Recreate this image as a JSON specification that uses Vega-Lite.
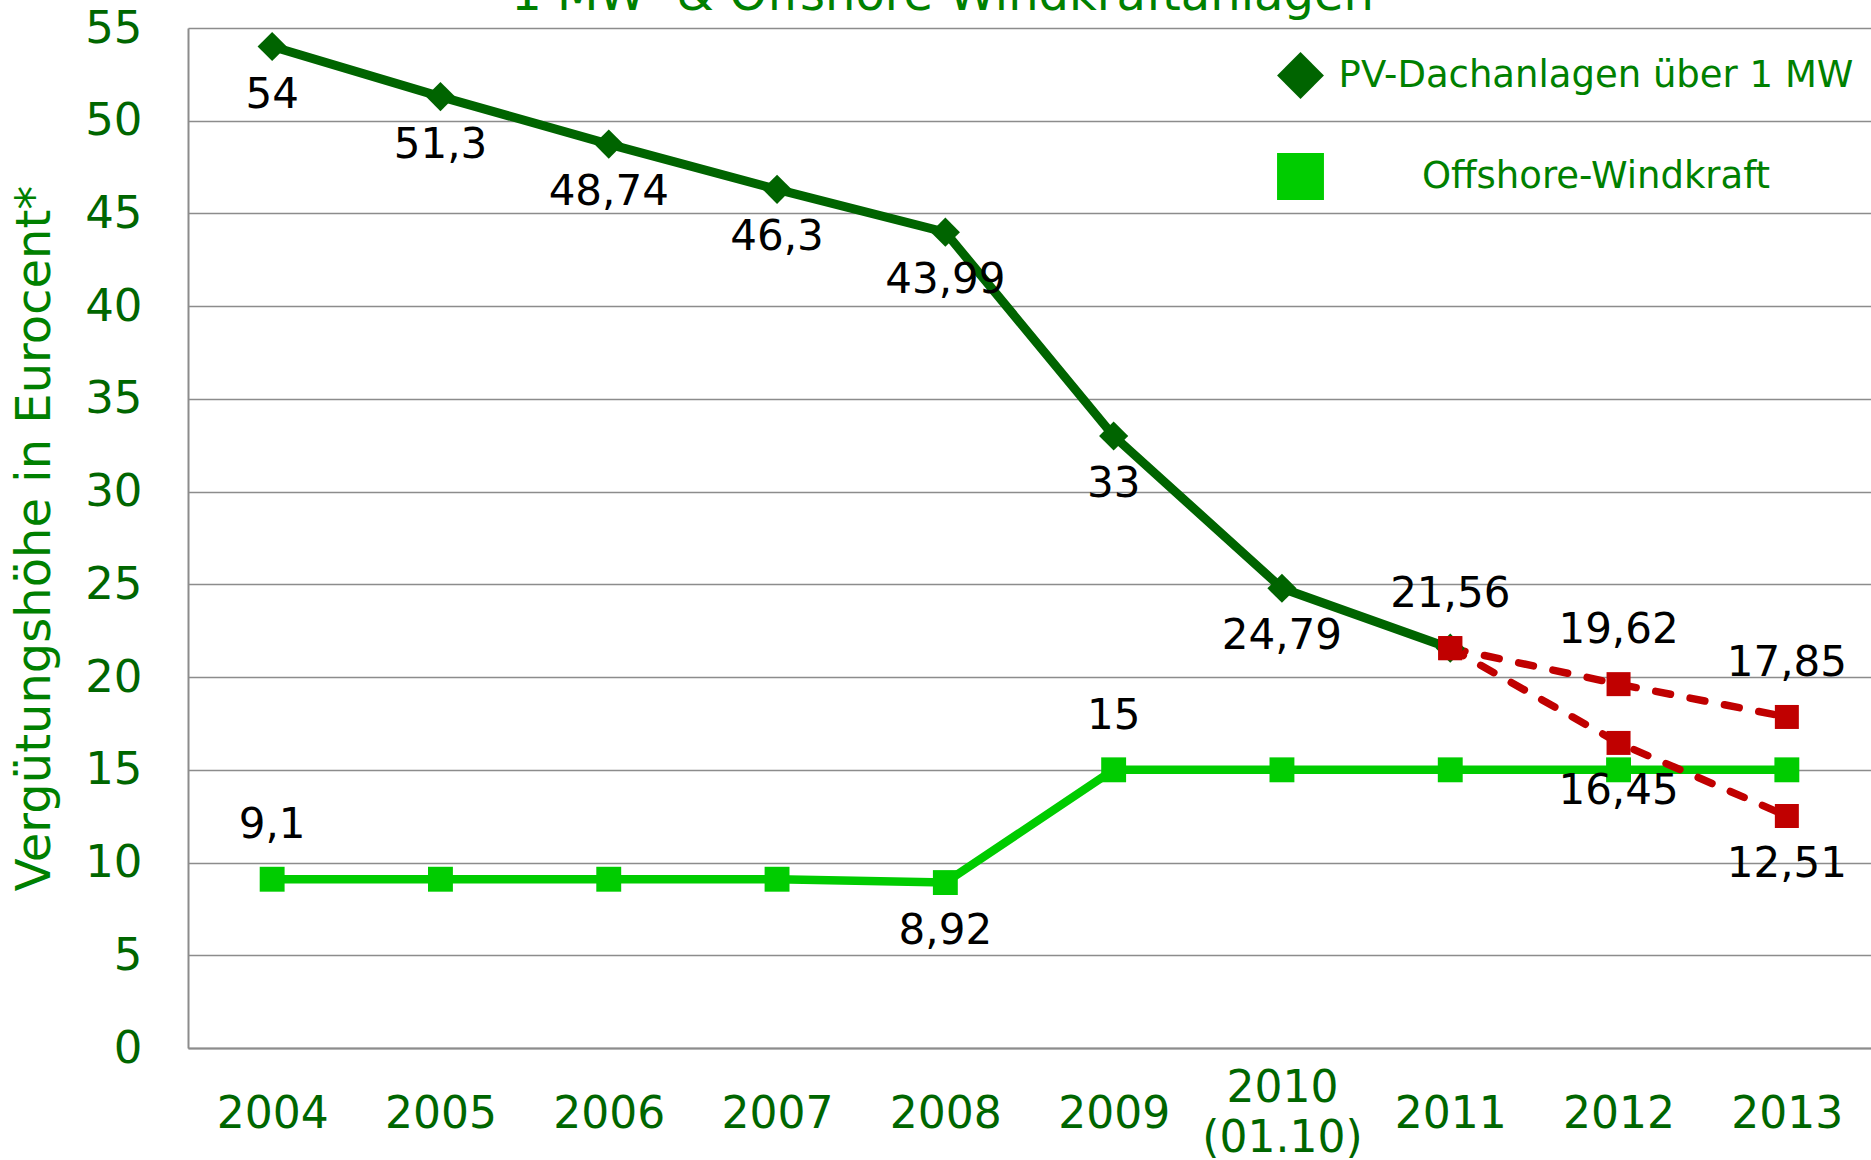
{
  "$schema": "https://vega.github.io/schema/vega-lite/v6.json",
  "autosize": "none",
  "width": 1683,
  "height": 1020,
  "padding": {"left": 188, "top": 28, "right": 0, "bottom": 112},
  "background": "white",
  "title": {
    "text": "1 MW- & Offshore-Windkraftanlagen",
    "fontSize": 48,
    "fontWeight": "normal",
    "color": "#008000",
    "anchor": "middle",
    "frame": "group",
    "offset": -14,
    "dx": -87
  },
  "config": {
    "font": "DejaVu Sans",
    "view": {"stroke": null},
    "axis": {"labelFont": "DejaVu Sans", "titleFont": "DejaVu Sans"},
    "legend": {"labelFont": "DejaVu Sans"}
  },
  "datasets": {
    "series": [
      {"year": "2004", "series": "PV-Dachanlagen über 1 MW", "value": 54},
      {"year": "2005", "series": "PV-Dachanlagen über 1 MW", "value": 51.3},
      {"year": "2006", "series": "PV-Dachanlagen über 1 MW", "value": 48.74},
      {"year": "2007", "series": "PV-Dachanlagen über 1 MW", "value": 46.3},
      {"year": "2008", "series": "PV-Dachanlagen über 1 MW", "value": 43.99},
      {"year": "2009", "series": "PV-Dachanlagen über 1 MW", "value": 33},
      {"year": "2010 (01.10)", "series": "PV-Dachanlagen über 1 MW", "value": 24.79},
      {"year": "2011", "series": "PV-Dachanlagen über 1 MW", "value": 21.56},
      {"year": "2004", "series": "Offshore-Windkraft", "value": 9.1},
      {"year": "2005", "series": "Offshore-Windkraft", "value": 9.1},
      {"year": "2006", "series": "Offshore-Windkraft", "value": 9.1},
      {"year": "2007", "series": "Offshore-Windkraft", "value": 9.1},
      {"year": "2008", "series": "Offshore-Windkraft", "value": 8.92},
      {"year": "2009", "series": "Offshore-Windkraft", "value": 15},
      {"year": "2010 (01.10)", "series": "Offshore-Windkraft", "value": 15},
      {"year": "2011", "series": "Offshore-Windkraft", "value": 15},
      {"year": "2012", "series": "Offshore-Windkraft", "value": 15},
      {"year": "2013", "series": "Offshore-Windkraft", "value": 15},
      {"year": "2011", "series": "Prognose A", "value": 21.56},
      {"year": "2012", "series": "Prognose A", "value": 19.62},
      {"year": "2013", "series": "Prognose A", "value": 17.85},
      {"year": "2011", "series": "Prognose B", "value": 21.56},
      {"year": "2012", "series": "Prognose B", "value": 16.45},
      {"year": "2013", "series": "Prognose B", "value": 12.51}
    ],
    "labels": [
      {"year": "2004", "value": 54, "label": "54", "placement": "below"},
      {"year": "2005", "value": 51.3, "label": "51,3", "placement": "below"},
      {"year": "2006", "value": 48.74, "label": "48,74", "placement": "below"},
      {"year": "2007", "value": 46.3, "label": "46,3", "placement": "below"},
      {"year": "2008", "value": 43.99, "label": "43,99", "placement": "below"},
      {"year": "2009", "value": 33, "label": "33", "placement": "below"},
      {"year": "2010 (01.10)", "value": 24.79, "label": "24,79", "placement": "below"},
      {"year": "2011", "value": 21.56, "label": "21,56", "placement": "above"},
      {"year": "2004", "value": 9.1, "label": "9,1", "placement": "above"},
      {"year": "2008", "value": 8.92, "label": "8,92", "placement": "below"},
      {"year": "2009", "value": 15, "label": "15", "placement": "above"},
      {"year": "2012", "value": 19.62, "label": "19,62", "placement": "above"},
      {"year": "2013", "value": 17.85, "label": "17,85", "placement": "above"},
      {"year": "2012", "value": 16.45, "label": "16,45", "placement": "below"},
      {"year": "2013", "value": 12.51, "label": "12,51", "placement": "below"}
    ]
  },
  "encoding": {
    "x": {
      "field": "year",
      "type": "nominal",
      "scale": {"type": "point", "padding": 0.5},
      "axis": {
        "title": null,
        "labelAngle": 0,
        "labelFontSize": 44,
        "labelColor": "#006600",
        "labelBaseline": "middle",
        "labelPadding": {"condition": {"test": "datum.value == '2010 (01.10)'", "value": 40}, "value": 66},
        "labelExpr": "datum.value == '2010 (01.10)' ? ['2010', '(01.10)'] : datum.value",
        "labelLineHeight": 50,
        "ticks": false,
        "grid": false,
        "domainColor": "#8c8c8c",
        "domainWidth": 2
      }
    },
    "y": {
      "field": "value",
      "type": "quantitative",
      "scale": {"domain": [0, 55], "nice": false},
      "axis": {
        "title": "Vergütungshöhe in Eurocent*",
        "titleFontSize": 48,
        "titleFontWeight": "normal",
        "titleColor": "#008000",
        "titlePadding": 25,
        "values": [0, 5, 10, 15, 20, 25, 30, 35, 40, 45, 50, 55],
        "labelFontSize": 45,
        "labelColor": "#006600",
        "labelPadding": 46,
        "ticks": false,
        "grid": true,
        "gridColor": "#8c8c8c",
        "gridWidth": 1.5,
        "domainColor": "#8c8c8c",
        "domainWidth": 2
      }
    }
  },
  "layer": [
    {
      "data": {"name": "series"},
      "transform": [{"filter": "datum.series == 'PV-Dachanlagen über 1 MW'"}],
      "mark": {"type": "line", "color": "#006400", "strokeWidth": 9}
    },
    {
      "data": {"name": "series"},
      "transform": [{"filter": "datum.series == 'Offshore-Windkraft'"}],
      "mark": {"type": "line", "color": "#00cc00", "strokeWidth": 8.5}
    },
    {
      "data": {"name": "series"},
      "transform": [{"filter": "datum.series == 'Prognose A' || datum.series == 'Prognose B'"}],
      "mark": {"type": "line", "color": "#c00000", "strokeWidth": 7.5, "strokeDash": [15, 20], "strokeCap": "round"},
      "encoding": {"detail": {"field": "series"}}
    },
    {
      "data": {"name": "series"},
      "transform": [{"filter": "datum.series == 'PV-Dachanlagen über 1 MW'"}],
      "mark": {"type": "point", "filled": true, "opacity": 1, "size": 850, "shape": "diamond", "color": "#006400"}
    },
    {
      "data": {"name": "series"},
      "transform": [{"filter": "datum.series == 'PV-Dachanlagen über 1 MW' || datum.series == 'Offshore-Windkraft'"}],
      "mark": {"type": "point", "filled": true, "opacity": 1, "size": 620},
      "encoding": {
        "color": {
          "field": "series",
          "type": "nominal",
          "scale": {"domain": ["PV-Dachanlagen über 1 MW", "Offshore-Windkraft"], "range": ["#006400", "#00cc00"]},
          "legend": {
            "title": null,
            "orient": "none",
            "legendX": 1088,
            "legendY": 23,
            "padding": 0,
            "symbolSize": 2200,
            "symbolOpacity": 1,
            "labelFontSize": 37,
            "labelColor": "#008000",
            "labelAlign": "center",
            "labelOffset": 271,
            "labelLimit": 0,
            "rowPadding": 48
          }
        },
        "shape": {
          "field": "series",
          "type": "nominal",
          "scale": {"domain": ["PV-Dachanlagen über 1 MW", "Offshore-Windkraft"], "range": ["diamond", "square"]},
          "legend": {
            "title": null,
            "orient": "none",
            "legendX": 1088,
            "legendY": 23,
            "padding": 0,
            "symbolSize": 2200,
            "symbolOpacity": 1,
            "labelFontSize": 37,
            "labelColor": "#008000",
            "labelAlign": "center",
            "labelOffset": 271,
            "labelLimit": 0,
            "rowPadding": 48
          }
        }
      }
    },
    {
      "data": {"name": "series"},
      "transform": [{"filter": "datum.series == 'Prognose A' || datum.series == 'Prognose B'"}],
      "mark": {"type": "point", "shape": "square", "filled": true, "opacity": 1, "size": 576, "color": "#c00000"}
    },
    {
      "data": {"name": "labels"},
      "transform": [{"filter": "datum.placement == 'below'"}],
      "mark": {"type": "text", "fontSize": 42, "color": "#000000", "baseline": "middle", "dy": 48},
      "encoding": {"text": {"field": "label"}}
    },
    {
      "data": {"name": "labels"},
      "transform": [{"filter": "datum.placement == 'above'"}],
      "mark": {"type": "text", "fontSize": 42, "color": "#000000", "baseline": "middle", "dy": -54},
      "encoding": {"text": {"field": "label"}}
    }
  ]
}
